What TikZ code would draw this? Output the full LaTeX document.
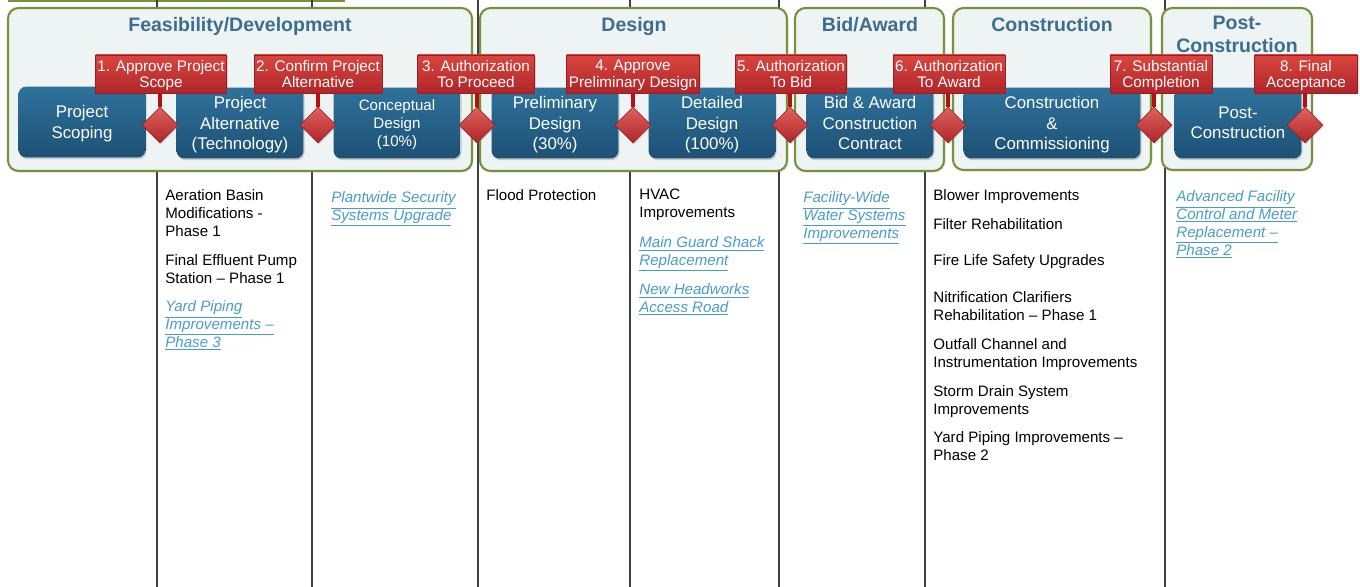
\documentclass[tikz,border=0pt]{standalone}
\usepackage{fontspec}
\setmainfont{Liberation Sans}
\usetikzlibrary{shapes.geometric,shadows}

\definecolor{boxline}{HTML}{76923C}
\definecolor{boxfill}{HTML}{EEF3F4}
\definecolor{titleblue}{HTML}{3B6E8F}
\definecolor{steptop}{HTML}{2F729C}
\definecolor{stepbot}{HTML}{1D5074}
\definecolor{redtop}{HTML}{D9463F}
\definecolor{redbot}{HTML}{B0252A}
\definecolor{stemred}{HTML}{B80E12}
\definecolor{linkblue}{HTML}{4A9CC8}

% underlined project link
\newcommand{\lnk}[1]{{\color{linkblue}\itshape\underline{#1}}}

\tikzset{
  divider/.style={black!75, line width=0.75pt},
  phasebox/.style={draw=boxline, line width=1.2pt, fill=boxfill, rounded corners=6pt,
    drop shadow={opacity=0.2, shadow xshift=0.8pt, shadow yshift=-0.8pt}},
  phasetitle/.style={anchor=north, inner sep=0pt, align=center, text=titleblue,
    font=\fontsize{11.1}{13}\selectfont\bfseries},
  stepbox/.style={rounded corners=4.5pt, top color=steptop, bottom color=stepbot,
    text=white, align=center, minimum width=2.54cm, minimum height=1.42cm, inner sep=1pt,
    text depth=0pt, font=\fontsize{9.6}{11.6}\selectfont,
    drop shadow={opacity=0.35, shadow xshift=0.6pt, shadow yshift=-1pt}},
  milestone/.style={top color=redtop, bottom color=redbot, draw=redbot!85!black,
    line width=0.3pt, text=white, align=center, minimum height=0.76cm, inner sep=1pt,
    text depth=0pt, font=\fontsize{8.7}{9.6}\selectfont,
    drop shadow={opacity=0.3, shadow xshift=0.6pt, shadow yshift=-0.8pt}},
  gate/.style={diamond, minimum width=0.72cm, minimum height=0.72cm, inner sep=0pt,
    top color=redtop!85!white, bottom color=redbot, draw=redbot!80!black, line width=0.3pt,
    drop shadow={opacity=0.3, shadow xshift=0.6pt, shadow yshift=-0.8pt}},
  stem/.style={stemred, line width=2.3pt},
  item/.style={anchor=north west, inner sep=0pt, align=left,
    font=\fontsize{8.6}{10.2}\selectfont}
}

\begin{document}
\begin{tikzpicture}[x=0.02cm, y=-0.02cm]
  \useasboundingbox (0,0) rectangle (1360,587);

  % column rules
  \draw[boxline, line width=1.7pt] (8,1) -- (345,1);
  \foreach \x in {157,312,478,630,779,925,1165}
  {
    \draw[divider] (\x,0) -- (\x,587);
  }

  % phases
  \draw[phasebox] (8,8) rectangle (472,171);
  \draw[phasebox] (480,8) rectangle (787,171);
  \draw[phasebox] (795,8) rectangle (944,171);
  \draw[phasebox] (953,8) rectangle (1151,170);
  \draw[phasebox] (1162,8) rectangle (1312,170);
  \node[phasetitle] (t1) at (240,17) {Feasibility/Development};
  \node[phasetitle] (t2) at (634,17) {Design};
  \node[phasetitle] (t3) at (870,17) {Bid/Award};
  \node[phasetitle] (t4) at (1052,17) {Construction};
  \node[phasetitle] (t5) at (1237,16) {Post-\\Construction};

  % steps
  \node[stepbox] (s1) at (82,122) {Project\\Scoping};
  \node[stepbox] (s2) at (240,123) {Project\\Alternative\\(Technology)};
  \node[stepbox, font=\fontsize{8.6}{10.5}\selectfont] (s3) at (397,123) {Conceptual\\Design\\(10\%)};
  \node[stepbox] (s4) at (555,123) {Preliminary\\Design\\(30\%)};
  \node[stepbox] (s5) at (712,123) {Detailed\\Design\\(100\%)};
  \node[stepbox] (s6) at (870,123) {Bid \& Award\\Construction\\Contract};
  \node[stepbox, minimum width=3.54cm] (s7) at (1052,123) {Construction\\\&\\Commissioning};
  \node[stepbox] (s8) at (1238,123) {Post-\\Construction};

  % milestones
  \foreach \i/\x/\w/\txt in {1/161/131/{1. Approve Project\\Scope},
      2/318/128/{2. Confirm Project\\Alternative},
      3/476/117/{3. Authorization\\To Proceed},
      4/633/133/{4. Approve\\Preliminary Design},
      5/791/108/{5. Authorization\\To Bid},
      6/949/112/{6. Authorization\\To Award},
      7/1161/102/{7. Substantial\\Completion},
      8/1306/103/{8. Final\\Acceptance}}
  {
    \node[milestone, minimum width=\w*0.02cm] (m\i) at (\x,74) {\txt};
  }
  \foreach \i/\x in {1/160,2/318,3/477,4/633,5/790,6/948,7/1154,8/1305}
  {
    \node[gate] (d\i) at (\x,125) {};
    \draw[stem] (d\i.north) -- (d\i.north |- m\i.south);
  }

  % projects under each step
  \node[item] (p1) at (165,189) {Aeration Basin\\Modifications -\\Phase 1};
  \node[item] (p2) at (165,254) {Final Effluent Pump\\Station – Phase 1};
  \node[item] (p3) at (165,300) {\lnk{Yard Piping}\\\lnk{Improvements –}\\\lnk{Phase 3}};
  \node[item] (p4) at (331,191) {\lnk{Plantwide Security}\\\lnk{Systems Upgrade}};
  \node[item] (p5) at (486,189) {Flood Protection};
  \node[item] (p6) at (639,189) {HVAC\\Improvements};
  \node[item] (p7) at (639,236) {\lnk{Main Guard Shack}\\\lnk{Replacement}};
  \node[item] (p8) at (639,283) {\lnk{New Headworks}\\\lnk{Access Road}};
  \node[item] (p9) at (803,191) {\lnk{Facility-Wide}\\\lnk{Water Systems}\\\lnk{Improvements}};
  \node[item] (p10) at (933,189) {Blower Improvements};
  \node[item] (p11) at (933,218) {Filter Rehabilitation};
  \node[item] (p12) at (933,254) {Fire Life Safety Upgrades};
  \node[item] (p13) at (933,291) {Nitrification Clarifiers\\Rehabilitation – Phase 1};
  \node[item] (p14) at (933,338) {Outfall Channel and\\Instrumentation Improvements};
  \node[item] (p15) at (933,385) {Storm Drain System\\Improvements};
  \node[item] (p16) at (933,431) {Yard Piping Improvements –\\Phase 2};
  \node[item] (p17) at (1176,190) {\lnk{Advanced Facility}\\\lnk{Control and Meter}\\\lnk{Replacement –}\\\lnk{Phase 2}};
\end{tikzpicture}
\end{document}
